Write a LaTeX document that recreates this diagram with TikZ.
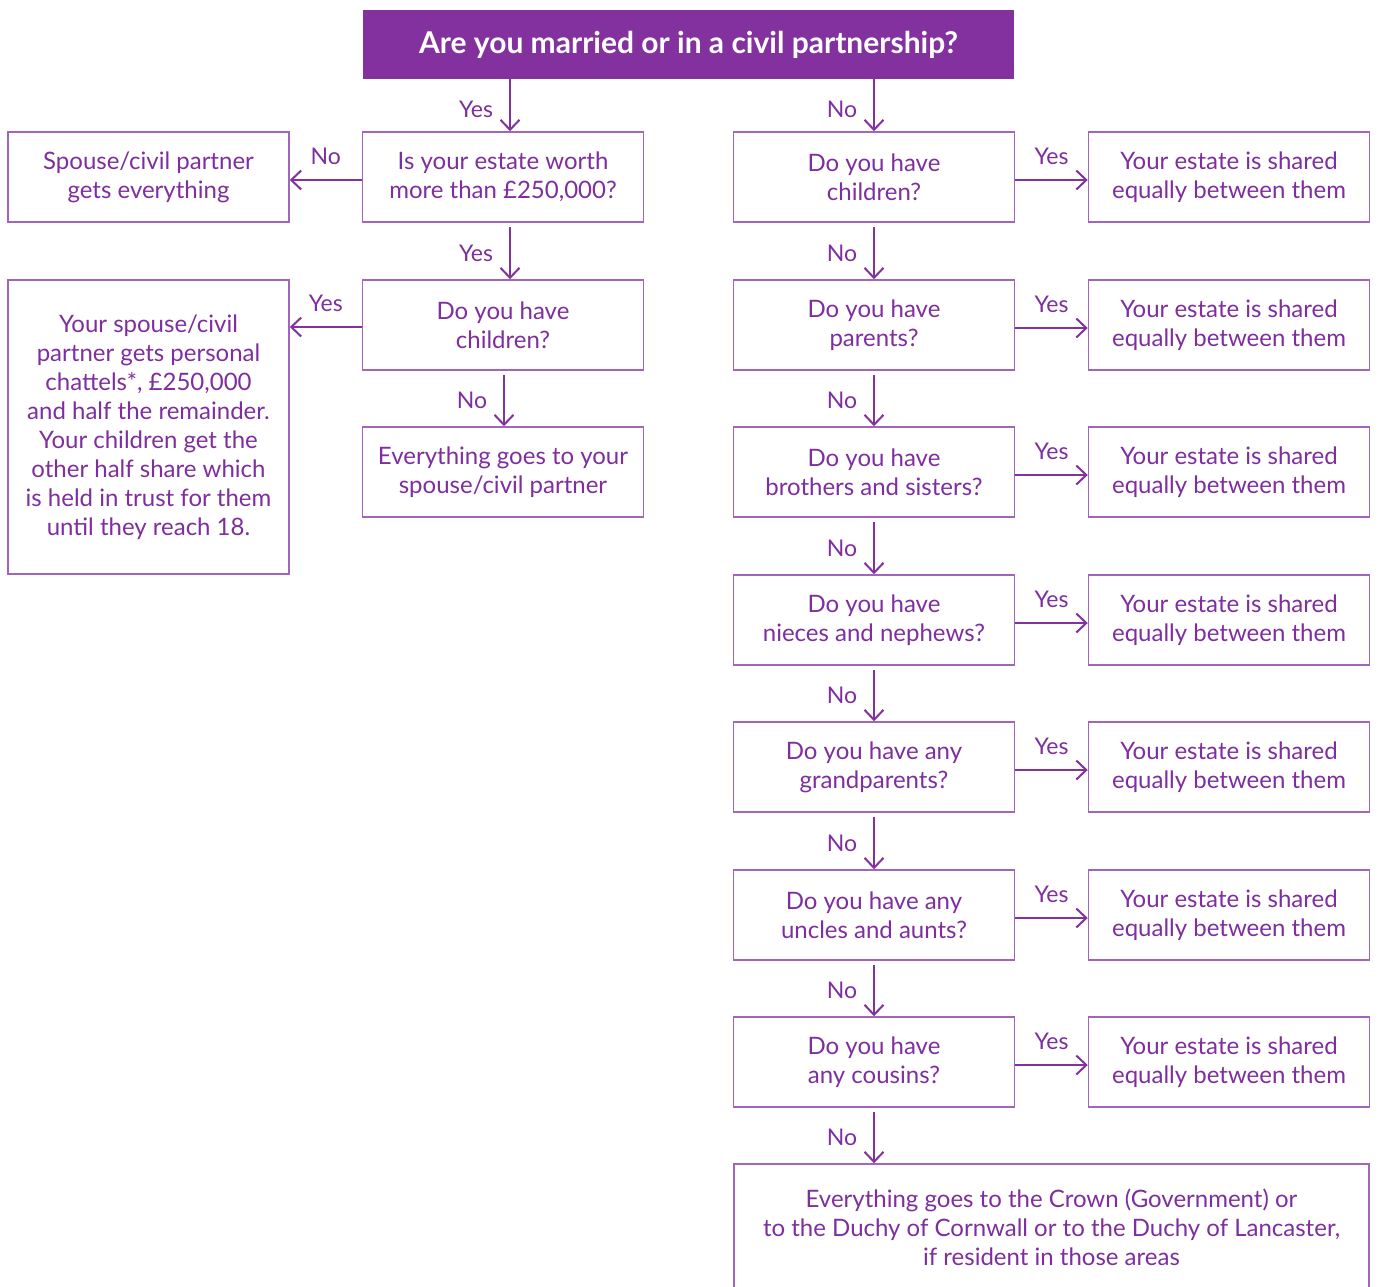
\documentclass[tikz,border=0pt]{standalone}
\usepackage{fontspec}
\setmainfont{Lato}
\usetikzlibrary{arrows.meta}
\definecolor{pfill}{HTML}{8431A0}
\definecolor{ptext}{HTML}{7E2E9E}
\definecolor{pline}{HTML}{A165BC}
\tikzset{
  box/.style={draw=pline, line width=1.5pt, text=ptext, align=center, inner sep=2pt,
    font=\fontsize{24}{29}\selectfont, minimum width=281pt, minimum height=90pt},
  arr/.style={draw=pfill, line width=2pt, -{Straight Barb[length=10pt,width=19pt,line width=2pt]}},
  lbl/.style={text=ptext, font=\fontsize{23}{29}\selectfont, inner sep=0pt},
}
\begin{document}
\begin{tikzpicture}[x=1pt,y=-1pt]
\useasboundingbox (0,0) rectangle (1378,1286);
\begin{scope}
\clip (0,0) rectangle (1378,1286);
% title
\node[fill=pfill, text=white, minimum width=651pt, minimum height=69pt, inner sep=0pt,
  font=\fontsize{30}{34}\selectfont\bfseries] (top) at (688.5,44.5) {Are you married or in a civil partnership?};
% middle column
\node[box] (q1) at (503,177) {Is your estate worth\\more than £250,000?};
\node[box] (q2) at (503,325) {Do you have\\children?};
\node[box] (e1) at (503,472) {Everything goes to your\\spouse/civil partner};
% left column
\node[box] (s1) at (148.5,177) {Spouse/civil partner\\gets everything};
\node[box, minimum height=294pt] (s2) at (148.5,427) {Your spouse/civil\\partner gets personal\\chattels*, £250,000\\and half the remainder.\\Your children get the\\other half share which\\is held in trust for them\\until they reach 18.};
% right column
\node[box] (r1) at (874,177) {Do you have\\children?};
\node[box] (r2) at (874,325) {Do you have\\parents?};
\node[box] (r3) at (874,472) {Do you have\\brothers and sisters?};
\node[box] (r4) at (874,620) {Do you have\\nieces and nephews?};
\node[box] (r5) at (874,767) {Do you have any\\grandparents?};
\node[box] (r6) at (874,915) {Do you have any\\uncles and aunts?};
\node[box] (r7) at (874,1062) {Do you have\\any cousins?};
\node[box, minimum width=635pt, minimum height=126pt] (fin) at (1051.5,1227) {Everything goes to the Crown (Government) or\\to the Duchy of Cornwall or to the Duchy of Lancaster,\\if resident in those areas};
\foreach \i/\y in {1/177,2/325,3/472,4/620,5/767,6/915,7/1062}{
  \node[box] (y\i) at (1229,\y) {Your estate is shared\\equally between them};
}
% coordinates for arrow x positions
\coordinate (ax1) at (510,0);
\coordinate (ax2) at (504,0);
\coordinate (ax3) at (874,0);
% arrows from title
\draw[arr] (ax1 |- top.south) -- node[lbl, midway, xshift=-34pt, yshift=-4pt] {Yes} (ax1 |- q1.north);
\draw[arr] (ax3 |- top.south) -- node[lbl, midway, xshift=-32pt, yshift=-4pt] {No} (ax3 |- r1.north);
% middle column
\draw[arr] ([yshift=-4pt]ax1 |- q1.south) -- node[lbl, midway, xshift=-34pt] {Yes} (ax1 |- q2.north);
\draw[arr] ([yshift=-4pt]ax2 |- q2.south) -- node[lbl, midway, xshift=-32pt] {No} (ax2 |- e1.north);
\draw[arr] ([yshift=-3pt]q1.west) -- node[lbl, midway, yshift=24pt] {No} ([yshift=-3pt]q1.west -| s1.east);
\draw[arr] ([yshift=-2pt]q2.west) -- node[lbl, midway, yshift=24pt] {Yes} ([yshift=-2pt]q2.west -| s2.east);
% right column verticals
\foreach \a/\b in {r1/r2,r2/r3,r3/r4,r4/r5,r5/r6,r6/r7,r7/fin}{
  \draw[arr] ([yshift=-4pt]ax3 |- \a.south) -- node[lbl, midway, xshift=-32pt] {No} (ax3 |- \b.north);
}
\foreach \i in {1,...,7}{
  \draw[arr] ([yshift=-3pt]r\i.east) -- node[lbl, midway, yshift=24pt] {Yes} ([yshift=-3pt]y\i.west);
}
\end{scope}
\end{tikzpicture}
\end{document}
